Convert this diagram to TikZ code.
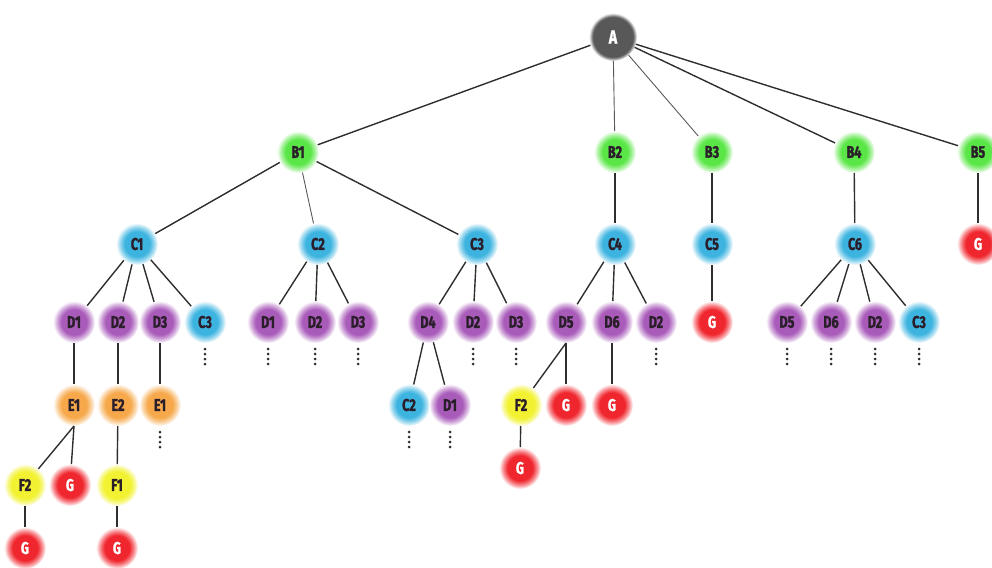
\documentclass[tikz,border=0pt]{standalone}
\usepackage{fontspec}
\newfontfamily\lblfont[FakeStretch=0.74,FakeBold=1.5]{Fira Sans}
\definecolor{cA}{HTML}{585858}
\definecolor{cB}{HTML}{5AE646}
\definecolor{cC}{HTML}{3DB4E0}
\definecolor{cD}{HTML}{A95BBA}
\definecolor{cE}{HTML}{F6A84A}
\definecolor{cF}{HTML}{F2F232}
\definecolor{cG}{HTML}{F0262E}
\definecolor{edgecol}{HTML}{2E2E2E}
\definecolor{txtdark}{HTML}{2A1E2A}
\pgfdeclareradialshading{glowB}{\pgfpointorigin}{color(0bp)=(cB); color(15bp)=(cB); color(20bp)=(cB!55!white); color(25bp)=(white); color(50bp)=(white)}
\pgfdeclareradialshading{glowC}{\pgfpointorigin}{color(0bp)=(cC); color(15bp)=(cC); color(20bp)=(cC!55!white); color(25bp)=(white); color(50bp)=(white)}
\pgfdeclareradialshading{glowD}{\pgfpointorigin}{color(0bp)=(cD); color(15bp)=(cD); color(20bp)=(cD!55!white); color(25bp)=(white); color(50bp)=(white)}
\pgfdeclareradialshading{glowE}{\pgfpointorigin}{color(0bp)=(cE); color(15bp)=(cE); color(20bp)=(cE!55!white); color(25bp)=(white); color(50bp)=(white)}
\pgfdeclareradialshading{glowF}{\pgfpointorigin}{color(0bp)=(cF); color(16bp)=(cF); color(21bp)=(cF!55!white); color(25bp)=(white); color(50bp)=(white)}
\pgfdeclareradialshading{glowG}{\pgfpointorigin}{color(0bp)=(cG); color(15bp)=(cG); color(20bp)=(cG!55!white); color(25bp)=(white); color(50bp)=(white)}
\pgfdeclareradialshading{glowA}{\pgfpointorigin}{color(0bp)=(cA); color(21bp)=(cA); color(23bp)=(cA!50!white); color(25bp)=(white); color(50bp)=(white)}
\newcommand{\moredots}[1]{\foreach \k in {0,1,2,3}{\fill[edgecol] ([yshift=-27pt-5pt*\k]#1.center) circle (1.5pt);}}
\begin{document}
\begin{tikzpicture}[x=1pt,y=-1pt,
  base/.style={circle,minimum size=42pt,inner sep=0pt,outer sep=0pt,font=\lblfont\bfseries\fontsize{17}{17}\selectfont,text=txtdark},
  nB/.style={base,shading=glowB},
  nC/.style={base,shading=glowC},
  nD/.style={base,shading=glowD},
  nE/.style={base,shading=glowE},
  nF/.style={base,shading=glowF},
  nG/.style={base,shading=glowG,text=white},
  nA/.style={base,shading=glowA,minimum size=48pt,text=white,font=\lblfont\bfseries\fontsize{19}{19}\selectfont},
  edge/.style={draw=edgecol,line width=1.4pt},
  thinedge/.style={draw=edgecol!80,line width=0.9pt}]
\useasboundingbox (0,0) rectangle (992,567);
\clip (0,0) rectangle (992,567);
% level A/B
\node[nA] (a) at (613,37) {A};
\node[nB] (b1) at (298,152) {B1};
\node[nB] (b2) at (615,152) {B2};
\node[nB] (b3) at (712,152) {B3};
\node[nB] (b4) at (854,152) {B4};
\node[nB] (b5) at (978,152) {B5};
% level C
\node[nC] (c1) at (137,244) {C1};
\node[nC] (c2) at (318,244) {C2};
\node[nC] (c3) at (477,244) {C3};
\node[nC] (c4) at (615,244) {C4};
\node[nC] (c5) at (712,244) {C5};
\node[nC] (c6) at (855,244) {C6};
\node[nG] (g5) at (978,244) {G};
% level D
\node[nD] (d11) at (74,322) {D1};
\node[nD] (d12) at (118,322) {D2};
\node[nD] (d13) at (160,322) {D3};
\node[nC] (d14) at (205,322) {C3};
\node[nD] (d21) at (268,322) {D1};
\node[nD] (d22) at (315,322) {D2};
\node[nD] (d23) at (358,322) {D3};
\node[nD] (d31) at (428,322) {D4};
\node[nD] (d32) at (473,322) {D2};
\node[nD] (d33) at (516,322) {D3};
\node[nD] (d41) at (566,322) {D5};
\node[nD] (d42) at (612,322) {D6};
\node[nD] (d43) at (656,322) {D2};
\node[nG] (g51) at (712,322) {G};
\node[nD] (d61) at (787,322) {D5};
\node[nD] (d62) at (831,322) {D6};
\node[nD] (d63) at (875,322) {D2};
\node[nC] (d64) at (919,322) {C3};
% level E
\node[nE] (e1) at (74,405) {E1};
\node[nE] (e2) at (118,405) {E2};
\node[nE] (e3) at (160,405) {E1};
\node[nC] (e4) at (409,405) {C2};
\node[nD] (e5) at (450,405) {D1};
\node[nF] (f3) at (521,405) {F2};
\node[nG] (g6) at (566,405) {G};
\node[nG] (g7) at (612,405) {G};
% level F
\node[nF] (f1) at (25,485) {F2};
\node[nG] (g1) at (70,485) {G};
\node[nF] (f2) at (117,485) {F1};
\node[nG] (g8) at (520,468) {G};
% level G
\node[nG] (g2) at (25,548) {G};
\node[nG] (g3) at (117,548) {G};
% edges
\draw[edge] (a) -- (b1);
\draw[thinedge] (a) -- (b2);
\draw[thinedge] (a) -- (b3);
\draw[edge] (a) -- (b4);
\draw[edge] (a) -- (b5);
\draw[edge] (b1) -- (c1);
\draw[thinedge] (b1) -- (c2);
\draw[edge] (b1) -- (c3);
\draw[edge] (b2) -- (c4);
\draw[edge] (b3) -- (c5);
\draw[edge] (b4) -- (c6);
\draw[edge] (b5) -- (g5);
\foreach \t in {d11,d12,d13,d14} \draw[edge] (c1) -- (\t);
\foreach \t in {d21,d22,d23} \draw[edge] (c2) -- (\t);
\foreach \t in {d31,d32,d33} \draw[edge] (c3) -- (\t);
\foreach \t in {d41,d42,d43} \draw[edge] (c4) -- (\t);
\draw[edge] (c5) -- (g51);
\foreach \t in {d61,d62,d63,d64} \draw[edge] (c6) -- (\t);
\draw[edge] (d11) -- (e1);
\draw[edge] (d12) -- (e2);
\draw[edge] (d13) -- (e3);
\draw[edge] (d31) -- (e4);
\draw[edge] (d31) -- (e5);
\draw[edge] (d41.south) -- (f3);
\draw[edge] (d41.south) -- (g6);
\draw[edge] (d42) -- (g7);
\draw[edge] (e1.south) -- (f1);
\draw[edge] (e1.south) -- (g1);
\draw[edge] (e2) -- (f2);
\draw[edge] (f3) -- (g8);
\draw[edge] (f1) -- (g2);
\draw[edge] (f2) -- (g3);
% continuation dots
\foreach \n in {d14,d21,d22,d23,d32,d33,d43,d61,d62,d63,d64,e3,e4,e5} {\moredots{\n}}
\end{tikzpicture}
\end{document}
